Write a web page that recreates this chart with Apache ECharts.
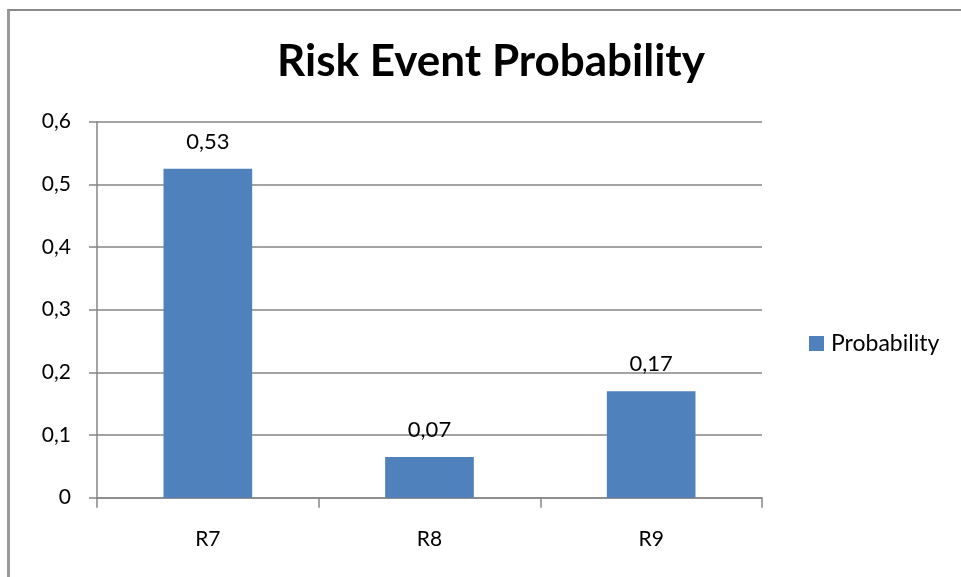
<!DOCTYPE html>
<html>
<head>
<meta charset="utf-8">
<script src="https://cdn.jsdelivr.net/npm/echarts@6/dist/echarts.min.js"></script>
<style>
html,body{margin:0;padding:0;background:#fff;}
#frame{position:absolute;left:7px;top:9px;width:960px;height:580px;border-left:3px solid #9a9a9a;border-top:2px solid #8a8a8a;}
#chart{position:absolute;left:0;top:0;width:961px;height:577px;}
</style>
</head>
<body>
<div id="frame"></div>
<div id="chart"></div>
<script>
const categories = ['R7', 'R8', 'R9'];
const probability = [0.525, 0.065, 0.17];
const yTicks = [0, 0.1, 0.2, 0.3, 0.4, 0.5, 0.6];
const seriesName = 'Probability';
const titleText = 'Risk Event Probability';

const fmt = v => String(v).replace('.', ',');
const fmt2 = v => (Math.round(v * 100 + 1e-9) / 100).toFixed(2).replace('.', ',');

const chart = echarts.init(document.getElementById('chart'));
chart.setOption({
  animation: false,
  backgroundColor: 'transparent',
  textStyle: { fontFamily: 'Lato' },
  title: {
    text: titleText,
    left: 486,
    textAlign: 'center',
    top: 35,
    textStyle: { fontSize: 44, fontWeight: 'bold', color: '#000', fontFamily: 'Lato' }
  },
  legend: {
    data: [seriesName],
    left: 804,
    top: 327,
    itemWidth: 15,
    itemHeight: 15,
    itemGap: 8,
    icon: 'rect',
    textStyle: { fontSize: 23, color: '#000', fontFamily: 'Lato', padding: [0, 0, 0, 2] }
  },
  grid: { left: 97, right: 199, top: 121.7, bottom: 79.3, containLabel: false },
  xAxis: {
    type: 'category',
    data: categories,
    boundaryGap: true,
    axisLine: { lineStyle: { color: '#868686', width: 1.5 } },
    axisTick: { show: true, length: 10, alignWithLabel: false, lineStyle: { color: '#868686', width: 1.5 } },
    axisLabel: { fontSize: 21, color: '#000', margin: 31, fontFamily: 'Lato' }
  },
  yAxis: {
    type: 'value',
    min: yTicks[0],
    max: yTicks[yTicks.length - 1],
    interval: 0.1,
    axisLine: { show: true, lineStyle: { color: '#868686', width: 1.5 } },
    axisTick: { show: true, length: 8, lineStyle: { color: '#868686', width: 1.5 } },
    axisLabel: { fontSize: 21, color: '#000', margin: 26, formatter: v => fmt(Math.round(v * 10) / 10), fontFamily: 'Lato' },
    splitLine: { lineStyle: { color: '#868686', width: 1.5 } }
  },
  series: [{
    name: seriesName,
    type: 'bar',
    data: probability,
    barWidth: '40%',
    itemStyle: { color: '#4f81bd' },
    label: {
      show: true,
      position: 'top',
      distance: 16,
      fontSize: 22,
      color: '#000',
      fontFamily: 'Lato',
      formatter: p => fmt2(p.value)
    }
  }]
});
</script>
</body>
</html>
